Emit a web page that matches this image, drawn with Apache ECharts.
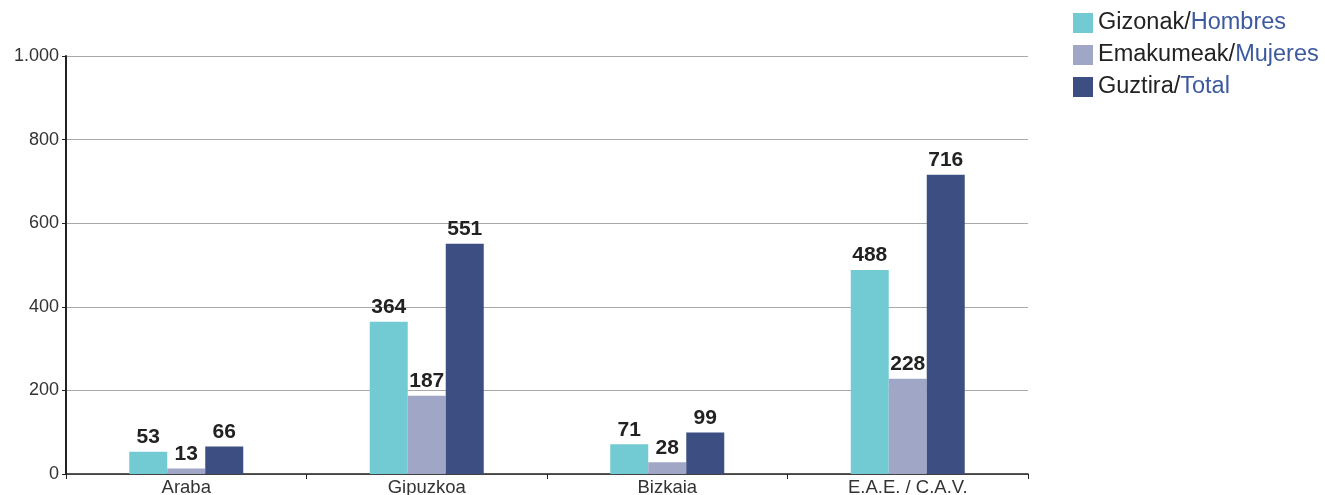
<!DOCTYPE html>
<html><head><meta charset="utf-8">
<script src="https://cdn.jsdelivr.net/npm/echarts@6/dist/echarts.min.js"></script>
<style>html,body{margin:0;padding:0;background:#fff}#c{width:1325px;height:495px}</style>
</head><body><div id="c"></div>
<script>
const categories = ['Araba', 'Gipuzkoa', 'Bizkaia', 'E.A.E. / C.A.V.'];
const hombres = [53, 364, 71, 488];
const mujeres = [13, 187, 28, 228];
const total = [66, 551, 99, 716];
const seriesNames = [['Gizonak', 'Hombres'], ['Emakumeak', 'Mujeres'], ['Guztira', 'Total']];
const colors = ['#72CBD3', '#A0A6C6', '#3D4F82'];
const yTicks = [0, 200, 400, 600, 800, 1000];

const chart = echarts.init(document.getElementById('c'));
const font = 'Liberation Sans, Arial, sans-serif';
const mk = (i, data) => ({
  name: seriesNames[i][0] + '/' + seriesNames[i][1],
  type: 'bar', data: data, barWidth: 38, barGap: '0%',
  itemStyle: { color: colors[i] },
  label: { show: true, position: 'top', distance: 4, fontFamily: font, fontWeight: 'bold', fontSize: 21, color: '#222' }
});
chart.setOption({
  animation: false,
  textStyle: { fontFamily: font },
  grid: { left: 66, right: 297, top: 56, bottom: 21, containLabel: false, outerBoundsMode: 'none' },
  legend: {
    orient: 'vertical', left: 1068, top: 6, itemWidth: 20, itemHeight: 20, itemGap: 8,
    icon: 'rect',
    formatter: function (n) { const p = n.split('/'); return '{a|' + p[0] + '/}{b|' + p[1] + '}'; },
    textStyle: { rich: { a: { fontSize: 23.5, color: '#222', fontFamily: font, lineHeight: 24 }, b: { fontSize: 23.5, color: '#3D5A9E', fontFamily: font, lineHeight: 24 } } }
  },
  xAxis: {
    type: 'category', data: categories,
    axisLine: { lineStyle: { color: '#222', width: 1.5 } },
    axisTick: { show: true, length: 5, lineStyle: { color: '#222' } },
    axisLabel: { fontSize: 18.5, color: '#333', margin: 4, fontFamily: font }
  },
  yAxis: {
    type: 'value', min: 0, max: 1000, interval: 200,
    axisLine: { show: true, lineStyle: { color: '#222', width: 2 } },
    axisTick: { show: true, length: 4, lineStyle: { color: '#222' } },
    splitLine: { lineStyle: { color: '#aaa' } },
    axisLabel: { fontSize: 18, color: '#333', margin: 7, fontFamily: font,
      formatter: v => yTicks.includes(v) ? String(v).replace(/\B(?=(\d{3})+(?!\d))/g, '.') : '' }
  },
  series: [mk(0, hombres), mk(1, mujeres), mk(2, total)]
});
</script></body></html>
